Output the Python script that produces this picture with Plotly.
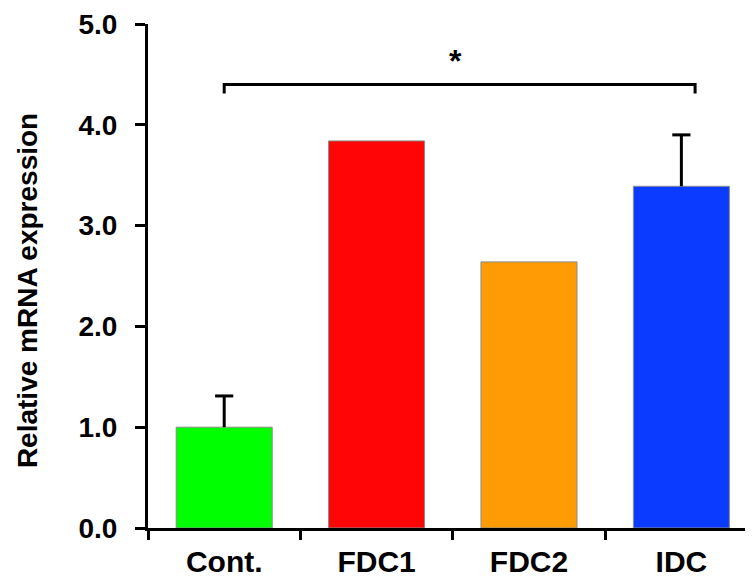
import plotly.graph_objects as go

categories = ["Cont.", "FDC1", "FDC2", "IDC"]
values = [1.0, 3.84, 2.64, 3.39]
errors_up = [0.31, None, None, 0.51]
bar_colors = ["#00FF00", "#FF0505", "#FF9B05", "#0A3BFF"]
y_ticks = [0, 1, 2, 3, 4, 5]
y_tick_labels = ["0.0", "1.0", "2.0", "3.0", "4.0", "5.0"]
bracket_x = [0.0, 3.09]
bracket_y = [4.31, 4.40]
star_pos = (1.52, 4.63)

FONT = "Liberation Sans, Arial, sans-serif"

fig = go.Figure()
fig.add_trace(go.Bar(
    x=categories, y=values,
    marker=dict(color=bar_colors, line=dict(color="#8a8a8a", width=1)),
    width=0.63, hoverinfo="x+y",
))

# upward-only error bars (stem + top cap), no cap at the bar top
for cat, v, e in zip(categories, values, errors_up):
    if e is None:
        continue
    fig.add_trace(go.Scatter(
        x=[cat, cat], y=[v, v + e], mode="lines",
        line=dict(color="black", width=3), hoverinfo="skip",
    ))
    fig.add_trace(go.Scatter(
        x=[cat], y=[v + e], mode="markers",
        marker=dict(symbol="line-ew-open", size=13, color="black",
                    line=dict(color="black", width=3)),
        hoverinfo="skip",
    ))

x0, x1 = bracket_x
yb, yt = bracket_y
fig.add_shape(type="path", xref="x", yref="y",
              path=f"M {x0} {yb} L {x0} {yt} L {x1} {yt} L {x1} {yb}",
              line=dict(color="black", width=3))
fig.add_annotation(x=star_pos[0], y=star_pos[1], xref="x", yref="y",
                   text="<b>*</b>", showarrow=False,
                   font=dict(family=FONT, size=32, color="black"))

fig.add_annotation(text="<b>Relative mRNA expression</b>", textangle=-90,
                   xref="paper", yref="paper", x=-0.2, y=0.47,
                   xanchor="center", yanchor="middle", showarrow=False,
                   font=dict(family=FONT, size=28, color="black"))

fig.update_layout(
    width=745, height=573,
    margin=dict(l=140, r=0, t=16, b=53),
    paper_bgcolor="white", plot_bgcolor="white",
    showlegend=False,
    font=dict(family=FONT, color="black"),
)
fig.update_xaxes(
    type="category", range=[-0.5, 3.47],
    showline=True, linecolor="black", linewidth=3,
    ticks="outside", tickson="boundaries", ticklen=9, tickwidth=3, tickcolor="black",
    tickfont=dict(family=FONT, size=30, color="black"),
    tickprefix="<b>", ticksuffix="</b>",
    ticklabelstandoff=5,
    showgrid=False, zeroline=False,
)
fig.update_yaxes(
    range=[0, 5], tickvals=y_ticks, ticktext=[f"<b>{t}</b>" for t in y_tick_labels],
    showline=True, linecolor="black", linewidth=3,
    ticks="outside", ticklen=10, tickwidth=3, tickcolor="black",
    tickfont=dict(family=FONT, size=28, color="black"),
    ticklabelstandoff=12,
    showgrid=False, zeroline=False,
)

fig.write_html("out.html")
